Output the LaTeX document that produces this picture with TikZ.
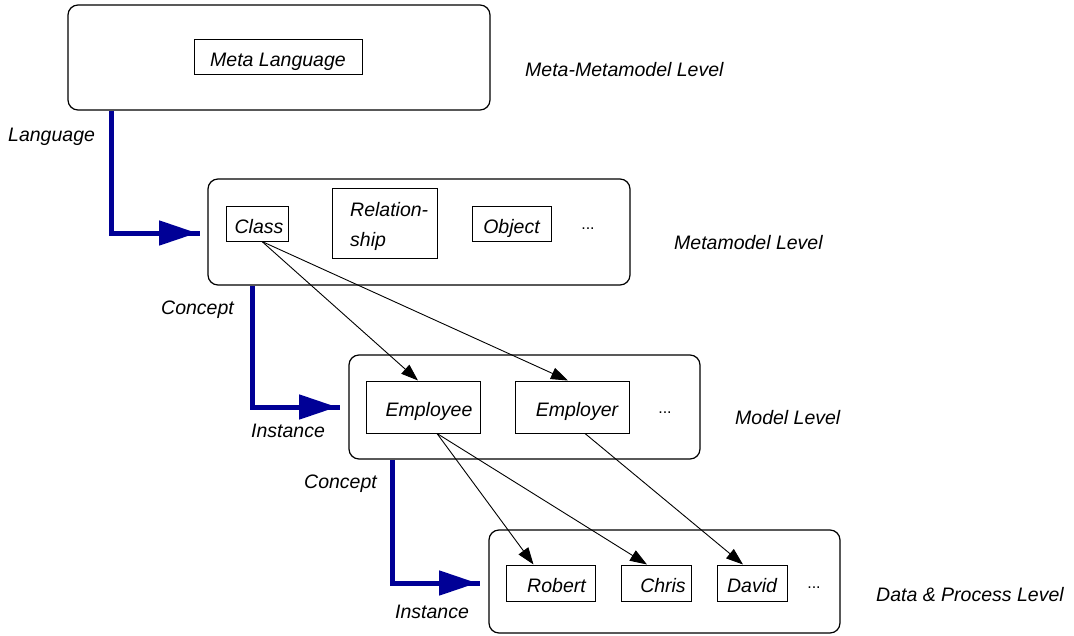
\documentclass[tikz,border=0pt]{standalone}
\usepackage{fontspec}
\setmainfont{Liberation Sans}
\usetikzlibrary{arrows.meta,decorations.markings}
\definecolor{levelblue}{RGB}{0,0,150}
\begin{document}
\begin{tikzpicture}[x=1pt,y=-1pt,
  every node/.style={font=\fontsize{19.5}{32}\selectfont\itshape, inner sep=0pt},
  bigbox/.style={draw, rounded corners=10pt, line width=1.2pt, fill=white},
  itembox/.style={draw, line width=1pt, text height=19pt, text depth=0pt},
  relbox/.style={draw, line width=1pt},
  lvl/.style={anchor=west},
  dotsnode/.style={font=\fontsize{16}{18}\selectfont},
  blueconn/.style={draw=levelblue, line width=5pt, line join=miter,
    postaction={decorate},
    decoration={markings, mark=at position -3pt with {\arrow[levelblue]{Triangle[length=38pt,width=24pt]}}}},
  conn/.style={line width=0.9pt, -{Triangle[length=17pt,width=12pt]}}
]
\useasboundingbox (0,0) rectangle (1074,635);

% level boxes
\node[bigbox, minimum width=422pt, minimum height=105pt] (b1) at (279,57.5) {};
\node[bigbox, minimum width=422pt, minimum height=106pt] (b2) at (419,232) {};
\node[bigbox, minimum width=351pt, minimum height=104pt] (b3) at (524.5,407) {};
\node[bigbox, minimum width=351pt, minimum height=103pt] (b4) at (664.5,581.5) {};

% items
\node[itembox, minimum width=168pt, minimum height=35pt] (meta) at (278,56.5) {Meta Language};
\node[itembox, minimum width=62pt, minimum height=35pt] (class) at (257,223.5) {\hspace*{4pt}Class};
\node[relbox, minimum width=105pt, minimum height=70pt] (rel) at (384.5,223) {};
\node[anchor=base west] (reltext) at (350,216) {Relation-};
\node[anchor=base west] (reltext2) at (350,246) {ship};
\node[itembox, minimum width=79pt, minimum height=35pt] (obj) at (511.5,223.5) {Object};
\node[dotsnode] (dots2) at (588,229) {...};

\node[itembox, minimum width=114pt, minimum height=52pt] (employee) at (423,407) {\hspace*{12pt}Employee};
\node[itembox, minimum width=114pt, minimum height=52pt] (employer) at (572,407) {\hspace*{10pt}Employer};
\node[dotsnode] (dots3) at (665,413) {...};

\node[itembox, minimum width=89pt, minimum height=36pt] (robert) at (550.5,583) {\hspace*{12pt}Robert};
\node[itembox, minimum width=70pt, minimum height=36pt] (chris) at (656,583) {\hspace*{14pt}Chris};
\node[itembox, minimum width=70pt, minimum height=36pt] (david) at (752,583) {David};
\node[dotsnode] (dots4) at (814,588) {...};

% level labels
\node[lvl] (l1) at (525,70) {Meta-Metamodel Level};
\node[lvl] (l2) at (674,243) {Metamodel Level};
\node[lvl] (l3) at (735,418) {Model Level};
\node[lvl] (l4) at (876,595) {Data \& Process Level};

% connector labels
\node[anchor=west] (lang) at (8,137) {Language};
\node[anchor=west] (conc1) at (161,310) {Concept};
\node[anchor=west] (inst1) at (251,431) {Instance};
\node[anchor=west] (conc2) at (304,484) {Concept};
\node[anchor=west] (inst2) at (395,612) {Instance};

% blue level connectors
\coordinate (e1) at (200,233);
\coordinate (e2) at (340,407);
\coordinate (e3) at (480,583);
\draw[blueconn] ([xshift=44pt]b1.south west) |- (e1);
\draw[blueconn] ([xshift=45pt]b2.south west) |- (e2);
\draw[blueconn] ([xshift=44pt]b3.south west) |- (e3);

% instance arrows
\draw[conn] ([xshift=5pt]class.south) -- ([xshift=-5pt]employee.north);
\draw[conn] ([xshift=5pt]class.south) -- ([xshift=-4pt]employer.north);
\draw[conn] ([xshift=14pt]employee.south) -- ([xshift=-17pt]robert.north);
\draw[conn] ([xshift=14pt]employee.south) -- ([xshift=-9pt]chris.north);
\draw[conn] ([xshift=13pt]employer.south) -- ([xshift=-9pt]david.north);
\end{tikzpicture}
\end{document}
